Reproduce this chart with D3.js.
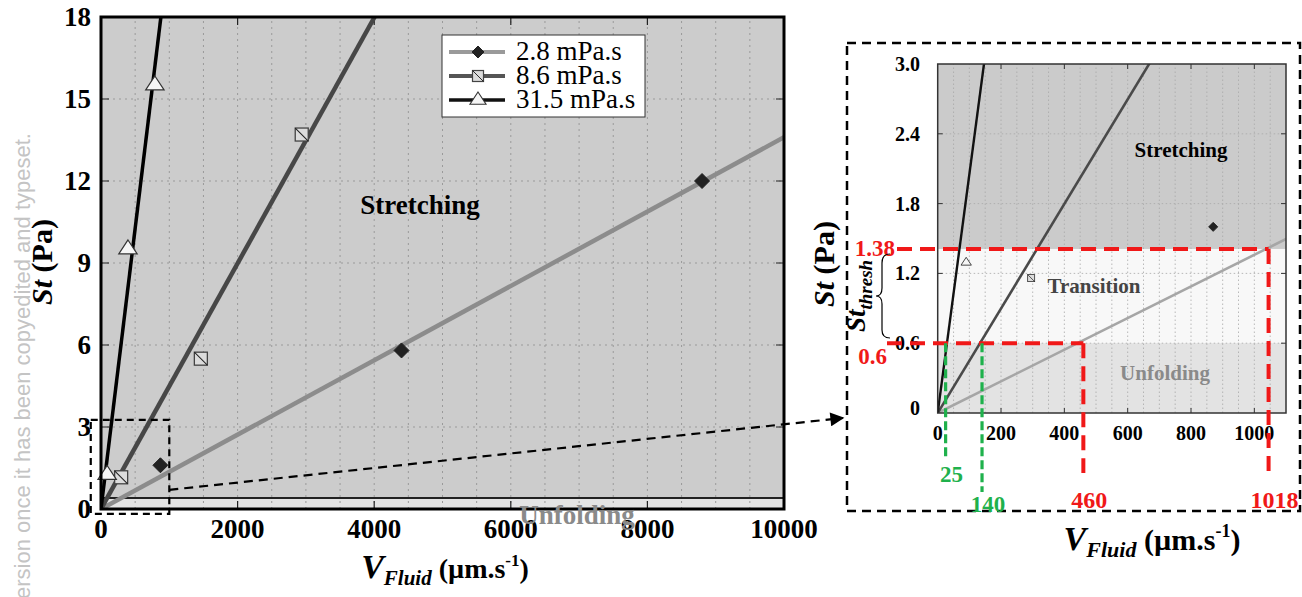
<!DOCTYPE html>
<html>
<head>
<meta charset="utf-8">
<script src="https://cdnjs.cloudflare.com/ajax/libs/d3/7.8.5/d3.min.js"></script>
<style>
  body { margin: 0; background: #fff; }
  svg text { font-family: "Liberation Serif", "Times New Roman", Times, serif; }
</style>
</head>
<body>
<svg width="1302" height="597"></svg>
<script>
// ---- data ----
var series = ["2.8 mPa.s", "8.6 mPa.s", "31.5 mPa.s"];
var pts28  = [[870, 1.6], [4400, 5.8], [8800, 12.0]];
var pts86  = [[295, 1.16], [1462, 5.5], [2939, 13.7]];
var pts315 = [[90, 1.3], [395, 9.55], [789, 15.55]];
// fitted lines, start / end as read
var fit28  = [[0, 0], [10000, 13.6]];
var fit86  = [[0, 0], [4006, 18]];
var fit315 = [[0, 0], [877, 18]];

var mainXTicks = [0, 2000, 4000, 6000, 8000, 10000];
var mainYTicks = [0, 3, 6, 9, 12, 15, 18];
var insetXTicks = [0, 200, 400, 600, 800, 1000];
var insetYTicks = [0, 0.6, 1.2, 1.8, 2.4, 3.0];

var mainUnfold = 0.4;              // boundary line in main chart
var stLow = 0.6, stHigh = 1.41;    // thresholds in the inset
var zoomBox = {v: [-150, 1000], st: [-0.18, 3.26]};
var redV = [460, 1045], redLabels = ["460", "1018"];
var greenV = [25, 140], greenLabels = ["25", "140"];

var svg = d3.select("svg");

// ---- watermark ----
svg.append("text")
  .attr("transform", "translate(30,133) rotate(-90)")
  .attr("text-anchor", "end")
  .style("font-family", "'Liberation Sans', Arial, sans-serif")
  .style("font-size", "22px")
  .attr("fill", "#c4c4c4")
  .text("ersion once it has been copyedited and typeset.");

// =================== MAIN CHART ===================
var x = d3.scaleLinear().domain([0, 10000]).range([101, 784]);
var y = d3.scaleLinear().domain([0, 18]).range([509, 17]);

var defs = svg.append("defs");
defs.append("clipPath").attr("id", "clipMain").append("rect")
  .attr("x", x(0)).attr("y", y(18)).attr("width", x(10000) - x(0)).attr("height", y(0) - y(18));

var main = svg.append("g");
main.append("rect").attr("x", x(0)).attr("y", y(18))
  .attr("width", x(10000) - x(0)).attr("height", y(mainUnfold) - y(18)).attr("fill", "#cccccc");
main.append("rect").attr("x", x(0)).attr("y", y(mainUnfold))
  .attr("width", x(10000) - x(0)).attr("height", y(0) - y(mainUnfold)).attr("fill", "#e4e4e4");

// grid
main.selectAll(".vg").data(d3.range(500, 10000, 500)).enter().append("line")
  .attr("x1", d => x(d)).attr("x2", d => x(d)).attr("y1", y(0)).attr("y2", y(18))
  .attr("stroke", "#9a9a9a").attr("stroke-width", 1).attr("stroke-dasharray", "2,4");
main.selectAll(".hg").data(mainYTicks.slice(1, -1)).enter().append("line")
  .attr("x1", x(0)).attr("x2", x(10000)).attr("y1", d => y(d)).attr("y2", d => y(d))
  .attr("stroke", "#9a9a9a").attr("stroke-width", 1).attr("stroke-dasharray", "2,4");

main.append("line").attr("x1", x(0)).attr("x2", x(10000))
  .attr("y1", y(mainUnfold)).attr("y2", y(mainUnfold))
  .attr("stroke", "#222").attr("stroke-width", 2);

// ticks (inward)
main.selectAll(".xt").data(mainXTicks.slice(1, -1)).enter().append("path")
  .attr("d", d => "M" + x(d) + "," + y(0) + "v-8M" + x(d) + "," + y(18) + "v8")
  .attr("stroke", "#222").attr("stroke-width", 1.2);
main.selectAll(".yt").data(mainYTicks.slice(1, -1)).enter().append("path")
  .attr("d", d => "M" + x(0) + "," + y(d) + "h8M" + x(10000) + "," + y(d) + "h-8")
  .attr("stroke", "#222").attr("stroke-width", 1.2);

var line = d3.line().x(d => x(d[0])).y(d => y(d[1]));
var lines = main.append("g").attr("clip-path", "url(#clipMain)");
lines.append("path").attr("d", line(fit28)).attr("stroke", "#8c8c8c").attr("stroke-width", 4.5).attr("fill", "none");
lines.append("path").attr("d", line(fit86)).attr("stroke", "#474747").attr("stroke-width", 4.5).attr("fill", "none");
lines.append("path").attr("d", line(fit315)).attr("stroke", "#000").attr("stroke-width", 3.5).attr("fill", "none");

// marker helpers
function diamond(g, cx, cy, r) {
  g.append("path").attr("d", "M" + cx + "," + (cy - r) + "L" + (cx + r) + "," + cy + "L" + cx + "," + (cy + r) + "L" + (cx - r) + "," + cy + "Z")
    .attr("fill", "#222").attr("stroke", "#222");
}
function square(g, cx, cy, h, sw) {
  g.append("rect").attr("x", cx - h).attr("y", cy - h).attr("width", 2 * h).attr("height", 2 * h)
    .attr("fill", "#dcdcdc").attr("stroke", "#444").attr("stroke-width", sw);
  g.append("line").attr("x1", cx - h).attr("y1", cy - h).attr("x2", cx + h).attr("y2", cy + h)
    .attr("stroke", "#222").attr("stroke-width", sw * 0.8);
}
function triangle(g, cx, cy, h, sw) {
  g.append("path").attr("d", "M" + cx + "," + (cy - h) + "L" + (cx + h * 1.15) + "," + (cy + h * 0.75) + "L" + (cx - h * 1.15) + "," + (cy + h * 0.75) + "Z")
    .attr("fill", "#f6f6f6").attr("stroke", "#333").attr("stroke-width", sw);
}

pts28.forEach(p => diamond(main, x(p[0]), y(p[1]), 7.5));
pts86.forEach(p => square(main, x(p[0]), y(p[1]), 6.5, 1.3));
pts315.forEach(p => triangle(main, x(p[0]), y(p[1]), 8, 1.2));

// frame
main.append("rect").attr("x", x(0)).attr("y", y(18)).attr("width", x(10000) - x(0)).attr("height", y(0) - y(18))
  .attr("fill", "none").attr("stroke", "#000").attr("stroke-width", 3);

// tick labels
main.selectAll(".xl").data(mainXTicks).enter().append("text")
  .attr("x", d => x(d)).attr("y", 538).attr("text-anchor", "middle")
  .style("font-size", "27px").style("font-weight", "bold").text(d => d);
main.selectAll(".yl").data(mainYTicks).enter().append("text")
  .attr("x", 91).attr("y", d => y(d) + 9).attr("text-anchor", "end")
  .style("font-size", "27px").style("font-weight", "bold").text(d => d);

// region labels
main.append("text").attr("x", 420).attr("y", 214).attr("text-anchor", "middle")
  .style("font-size", "27px").style("font-weight", "bold").text("Stretching");
main.append("text").attr("x", 577).attr("y", 524).attr("text-anchor", "middle")
  .style("font-size", "27px").style("font-weight", "bold").attr("fill", "#8a8a8a").text("Unfolding");

// axis titles
var xt = main.append("text").attr("x", 445).attr("y", 578).attr("text-anchor", "middle")
  .style("font-weight", "bold");
xt.append("tspan").style("font-size", "34px").style("font-style", "italic").text("V");
xt.append("tspan").style("font-size", "21px").style("font-style", "italic").attr("dy", 7).text("Fluid");
xt.append("tspan").style("font-size", "28px").attr("dy", -7).text(" (\u00b5m.s");
xt.append("tspan").style("font-size", "17px").attr("dy", -12).text("-1");
xt.append("tspan").style("font-size", "28px").attr("dy", 12).text(")");

var yt = main.append("text").attr("transform", "translate(52,262) rotate(-90)").attr("text-anchor", "middle")
  .style("font-weight", "bold").style("font-size", "30px");
yt.append("tspan").style("font-style", "italic").text("St");
yt.append("tspan").text(" (Pa)");

// legend
var lg = main.append("g");
lg.append("rect").attr("x", 442).attr("y", 35).attr("width", 203).attr("height", 82)
  .attr("fill", "#fff").attr("stroke", "#333").attr("stroke-width", 1);
var lgColors = ["#9a9a9a", "#555", "#111"];
var lgWidths = [4, 4, 3.5];
series.forEach(function (s, i) {
  var cy = 52 + i * 24;
  lg.append("line").attr("x1", 449).attr("x2", 505).attr("y1", cy).attr("y2", cy)
    .attr("stroke", lgColors[i]).attr("stroke-width", lgWidths[i]);
  if (i === 0) diamond(lg, 478, cy, 6);
  if (i === 1) square(lg, 478, cy, 5.5, 1.2);
  if (i === 2) triangle(lg, 478, cy - 1, 7, 1.1);
  lg.append("text").attr("x", 516).attr("y", cy + 8).style("font-size", "27px").text(s);
});

// zoom box and arrow
main.append("rect").attr("x", x(zoomBox.v[0])).attr("y", y(zoomBox.st[1]))
  .attr("width", x(zoomBox.v[1]) - x(zoomBox.v[0])).attr("height", y(zoomBox.st[0]) - y(zoomBox.st[1]))
  .attr("fill", "none").attr("stroke", "#000").attr("stroke-width", 2.2).attr("stroke-dasharray", "7,5");
defs.append("marker").attr("id", "arrow").attr("viewBox", "0 0 10 10").attr("refX", 9).attr("refY", 5)
  .attr("markerWidth", 16).attr("markerHeight", 14).attr("markerUnits", "userSpaceOnUse")
  .attr("orient", "auto")
  .append("path").attr("d", "M0,0L10,5L0,10Z").attr("fill", "#000");
main.append("line").attr("x1", x(zoomBox.v[1])).attr("y1", y(0.7)).attr("x2", 843).attr("y2", 418)
  .attr("stroke", "#000").attr("stroke-width", 2.2).attr("stroke-dasharray", "9,6")
  .attr("marker-end", "url(#arrow)");

// =================== INSET ===================
var xi = d3.scaleLinear().domain([0, 1100]).range([937.7, 1286]);
var yi = d3.scaleLinear().domain([0, 3]).range([413, 64]);
defs.append("clipPath").attr("id", "clipIn").append("rect")
  .attr("x", xi(0)).attr("y", yi(3)).attr("width", xi(1100) - xi(0)).attr("height", yi(0) - yi(3));

var ins = svg.append("g");
ins.append("rect").attr("x", 847).attr("y", 43).attr("width", 453).attr("height", 468)
  .attr("fill", "none").attr("stroke", "#000").attr("stroke-width", 2.5).attr("stroke-dasharray", "9,6");

var w = xi(1100) - xi(0);
ins.append("rect").attr("x", xi(0)).attr("y", yi(3)).attr("width", w).attr("height", yi(stHigh) - yi(3)).attr("fill", "#cbcbcb");
ins.append("rect").attr("x", xi(0)).attr("y", yi(stHigh)).attr("width", w).attr("height", yi(stLow) - yi(stHigh)).attr("fill", "#f8f8f8");
ins.append("rect").attr("x", xi(0)).attr("y", yi(stLow)).attr("width", w).attr("height", yi(0) - yi(stLow)).attr("fill", "#e3e3e3");

ins.selectAll(".ivg").data(d3.range(50, 1100, 50)).enter().append("line")
  .attr("x1", d => xi(d)).attr("x2", d => xi(d)).attr("y1", yi(0)).attr("y2", yi(3))
  .attr("stroke", "#a8a8a8").attr("stroke-width", 0.8).attr("stroke-dasharray", "1.5,2.5");
ins.selectAll(".ihg").data(insetYTicks.slice(1, -1)).enter().append("line")
  .attr("x1", xi(0)).attr("x2", xi(1100)).attr("y1", d => yi(d)).attr("y2", d => yi(d))
  .attr("stroke", "#a8a8a8").attr("stroke-width", 0.8).attr("stroke-dasharray", "1.5,2.5");

ins.selectAll(".ixt").data(insetXTicks.slice(1)).enter().append("path")
  .attr("d", d => "M" + xi(d) + "," + yi(0) + "v-5M" + xi(d) + "," + yi(3) + "v5")
  .attr("stroke", "#333").attr("stroke-width", 1);
ins.selectAll(".iyt").data(insetYTicks.slice(1, -1)).enter().append("path")
  .attr("d", d => "M" + xi(0) + "," + yi(d) + "h5M" + xi(1100) + "," + yi(d) + "h-5")
  .attr("stroke", "#333").attr("stroke-width", 1);

var iline = d3.line().x(d => xi(d[0])).y(d => yi(d[1]));
var il = ins.append("g").attr("clip-path", "url(#clipIn)");
il.append("path").attr("d", iline(fit28)).attr("stroke", "#a6a6a6").attr("stroke-width", 2.6).attr("fill", "none");
il.append("path").attr("d", iline(fit86)).attr("stroke", "#4a4a4a").attr("stroke-width", 2.6).attr("fill", "none");
il.append("path").attr("d", iline(fit315)).attr("stroke", "#111").attr("stroke-width", 2.4).attr("fill", "none");

var im = ins.append("g").attr("clip-path", "url(#clipIn)");
pts28.forEach(p => diamond(im, xi(p[0]), yi(p[1]), 4.5));
pts86.forEach(p => square(im, xi(p[0]), yi(p[1]), 3.5, 0.9));
pts315.forEach(p => triangle(im, xi(p[0]), yi(p[1]), 4.5, 0.9));

ins.append("rect").attr("x", xi(0)).attr("y", yi(3)).attr("width", w).attr("height", yi(0) - yi(3))
  .attr("fill", "none").attr("stroke", "#333").attr("stroke-width", 1.5);

ins.selectAll(".ixl").data(insetXTicks).enter().append("text")
  .attr("x", d => xi(d)).attr("y", 440).attr("text-anchor", "middle")
  .style("font-size", "20px").style("font-weight", "bold").text(d => d);
ins.selectAll(".iyl").data(insetYTicks).enter().append("text")
  .attr("x", 920).attr("y", d => yi(d) + (d === 0 ? 2 : 7)).attr("text-anchor", "end")
  .style("font-size", "20px").style("font-weight", "bold").text(d => d === 0 ? "0" : d.toFixed(1));

ins.append("text").attr("x", 1181).attr("y", 157).attr("text-anchor", "middle")
  .style("font-size", "21px").style("font-weight", "bold").text("Stretching");
ins.append("text").attr("x", 1094).attr("y", 293).attr("text-anchor", "middle")
  .style("font-size", "21px").style("font-weight", "bold").attr("fill", "#444").text("Transition");
ins.append("text").attr("x", 1165).attr("y", 380).attr("text-anchor", "middle")
  .style("font-size", "21px").style("font-weight", "bold").attr("fill", "#8a8a8a").text("Unfolding");

// threshold guides
var red = "#f01818", green = "#1fb14c";
ins.append("line").attr("x1", 897).attr("x2", xi(redV[1])).attr("y1", yi(stHigh)).attr("y2", yi(stHigh))
  .attr("stroke", red).attr("stroke-width", 4).attr("stroke-dasharray", "15,8");
ins.append("line").attr("x1", 887).attr("x2", xi(redV[0])).attr("y1", yi(stLow)).attr("y2", yi(stLow))
  .attr("stroke", red).attr("stroke-width", 4).attr("stroke-dasharray", "15,8");
redV.forEach(function (v, i) {
  ins.append("line").attr("x1", xi(v)).attr("x2", xi(v)).attr("y1", yi(i === 0 ? stLow : stHigh)).attr("y2", 473)
    .attr("stroke", red).attr("stroke-width", 4).attr("stroke-dasharray", "15,8");
  ins.append("text").attr("x", i === 0 ? xi(v) + 6 : xi(v) + 6).attr("y", 508).attr("text-anchor", "middle")
    .style("font-size", "24px").style("font-weight", "bold").attr("fill", red).text(redLabels[i]);
});
greenV.forEach(function (v, i) {
  ins.append("line").attr("x1", xi(v)).attr("x2", xi(v)).attr("y1", yi(stLow)).attr("y2", i === 0 ? 460 : 492)
    .attr("stroke", green).attr("stroke-width", 3.2).attr("stroke-dasharray", "9,4");
  ins.append("text").attr("x", xi(v) + 6).attr("y", i === 0 ? 482 : 512).attr("text-anchor", "middle")
    .style("font-size", "23px").style("font-weight", "bold").attr("fill", green).text(greenLabels[i]);
});
ins.append("text").attr("x", 895).attr("y", yi(stHigh) + 7).attr("text-anchor", "end")
  .style("font-size", "23px").style("font-weight", "bold").attr("fill", red).text("1.38");
ins.append("text").attr("x", 887).attr("y", yi(stLow) + 21).attr("text-anchor", "end")
  .style("font-size", "23px").style("font-weight", "bold").attr("fill", red).text("0.6");

// brace and St_thresh
ins.append("path")
  .attr("d", "M890,254Q882,254 882,263L882,288Q882,296 876,296Q882,296 882,304L882,330Q882,338 890,338")
  .attr("fill", "none").attr("stroke", "#000").attr("stroke-width", 1.2);
var sth = ins.append("text").attr("transform", "translate(865,296) rotate(-90)").attr("text-anchor", "middle")
  .style("font-weight", "bold").style("font-style", "italic");
sth.append("tspan").style("font-size", "27px").text("St");
sth.append("tspan").style("font-size", "19px").attr("dy", 7).text("thresh");

var iyt = ins.append("text").attr("transform", "translate(834,264) rotate(-90)").attr("text-anchor", "middle")
  .style("font-weight", "bold").style("font-size", "30px");
iyt.append("tspan").style("font-style", "italic").text("St");
iyt.append("tspan").text(" (Pa)");

var ixt = ins.append("text").attr("x", 1152).attr("y", 550).attr("text-anchor", "middle")
  .style("font-weight", "bold");
ixt.append("tspan").style("font-size", "34px").style("font-style", "italic").text("V");
ixt.append("tspan").style("font-size", "22px").style("font-style", "italic").attr("dy", 7).text("Fluid");
ixt.append("tspan").style("font-size", "30px").attr("dy", -7).text(" (\u00b5m.s");
ixt.append("tspan").style("font-size", "18px").attr("dy", -13).text("-1");
ixt.append("tspan").style("font-size", "30px").attr("dy", 13).text(")");
</script>
</body>
</html>
